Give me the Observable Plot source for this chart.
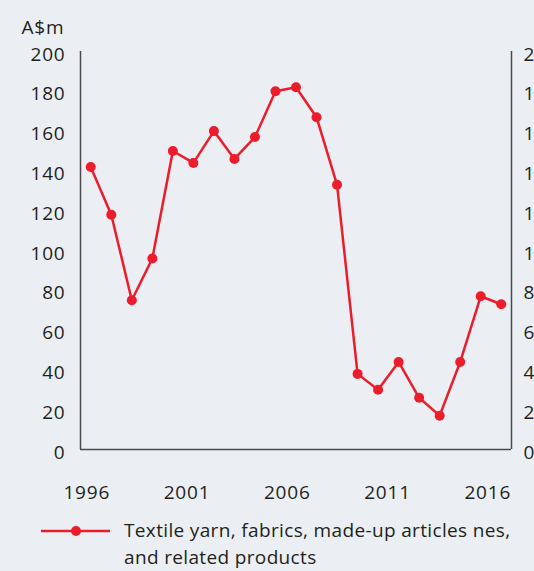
<!DOCTYPE html>
<html>
<head>
<meta charset="utf-8">
<script src="https://cdn.jsdelivr.net/npm/d3@7"></script>
<script src="https://cdn.jsdelivr.net/npm/@observablehq/plot@0.6"></script>
<style>
  html, body { margin: 0; padding: 0; background: #ebeff3; width: 534px; height: 571px; overflow: hidden; }
  body { font-family: "Open Sans", sans-serif; color: #231f20; }
  #legend { position: relative; height: 54px; margin-top: 12px; }
  #legend svg { position: absolute; left: 41px; top: 4px; }
  #legend .txt { position: absolute; left: 124px; top: 0; font-size: 19px; line-height: 26.5px; letter-spacing: 0.35px; white-space: nowrap; }
</style>
</head>
<body>
<div id="chart"></div>
<div id="legend">
  <svg width="70" height="20"><line x1="0" y1="10" x2="69" y2="10" stroke="#ec1c2a" stroke-width="2.5"/><circle cx="35" cy="10" r="5" fill="#ec1c2a"/></svg>
  <div class="txt">Textile yarn, fabrics, made-up articles nes,<br>and related products</div>
</div>
<script>
const years = [1996,1997,1998,1999,2000,2001,2002,2003,2004,2005,2006,2007,2008,2009,2010,2011,2012,2013,2014,2015,2016];
const values = [142,118,75,96,150,144,160,146,157,180,182,167,133,38,30,44,26,17,44,77,73];
const xTicks = [1996,2001,2006,2011,2016];
const yTicks = [0,20,40,60,80,100,120,140,160,180,200];
const unitLabel = "A$m";
const seriesName = "Textile yarn, fabrics, made-up articles nes, and related products";

const data = years.map((y, i) => ({year: y, value: values[i]}));
const x0 = d3.min(years) - 0.5, x1 = d3.max(years) + 0.5;
const red = "#ec1c2a";
const axisColor = "#4a4a4a";
const ink = "#231f20";
// the original's category labels drift slightly left of their points
const labelShift = t => -(4 + 0.475 * (t - xTicks[0]));

const chart = Plot.plot({
  width: 534,
  height: 505,
  marginLeft: 80,
  marginRight: 23,
  marginTop: 51,
  marginBottom: 56,
  style: { background: "transparent", fontFamily: "Open Sans, sans-serif", fontSize: "19px", color: ink, overflow: "hidden", letterSpacing: "0.8px" },
  x: { domain: [x0, x1] },
  y: { domain: [0, 200] },
  marks: [
    ...xTicks.map(t => Plot.axisX({ ticks: [t], tickFormat: d => String(d), tickSize: 0, tickPadding: 36, dx: labelShift(t), label: null, fill: ink })),
    Plot.axisY({ anchor: "left", ticks: yTicks, tickSize: 0, tickPadding: 15, dy: 3, label: null, fill: ink }),
    Plot.axisY({ anchor: "right", ticks: yTicks, tickSize: 0, tickPadding: 12, dy: 3, label: null, fill: ink }),
    Plot.ruleY([0], { stroke: axisColor, strokeWidth: 1.5 }),
    Plot.ruleX([x0, x1], { stroke: axisColor, strokeWidth: 1.5 }),
    Plot.line(data, { x: "year", y: "value", stroke: red, strokeWidth: 2.5 }),
    Plot.dot(data, { x: "year", y: "value", fill: red, r: 5 }),
    Plot.text([unitLabel], { frameAnchor: "top-left", dx: -59, dy: -31, textAnchor: "start", fontSize: 19, fill: ink })
  ]
});
document.getElementById("chart").appendChild(chart);
</script>
</body>
</html>
